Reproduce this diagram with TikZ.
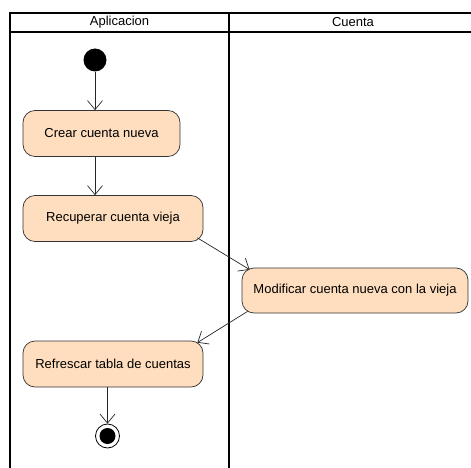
\documentclass[tikz,border=0pt]{standalone}
\usepackage{fontspec}
\setmainfont{Liberation Sans}
\usetikzlibrary{arrows.meta}
\definecolor{accion}{RGB}{254,222,190}

\begin{document}
\begin{tikzpicture}[x=1pt,y=-1pt,font=\fontsize{13}{15}\selectfont,
        carril/.style={draw=black,line width=1.4pt},
        actividad/.style={draw=black!80,fill=accion,line width=0.7pt,rounded corners=12pt,minimum height=46pt,inner sep=0pt},
        flujo/.style={draw=black!85,line width=0.7pt,-{Straight Barb[length=9pt,width=15pt]}}]
        \useasboundingbox (0,0) rectangle (471,468);
        \pgfmathsetmacro\izq{10}
        \pgfmathsetmacro\mitad{229}
        \pgfmathsetmacro\der{471}
        \pgfmathsetmacro\arriba{13}
        \pgfmathsetmacro\cabeza{32}
        \pgfmathsetmacro\abajo{468}
        % calles
        \draw[carril] (\der,\arriba) -- (\izq,\arriba) -- (\izq,\abajo);
        \draw[carril] (\izq,\cabeza) -- (\der,\cabeza);
        \draw[carril] (\mitad,\arriba) -- (\mitad,\abajo);
        \node (aplicacion) at ({(\izq+\mitad)/2},{(\arriba+\cabeza)/2}) {Aplicacion};
        \node (cuenta) at (353,{(\arriba+\cabeza)/2}) {Cuenta};
        % actividades
        \node[circle,fill=black,minimum size=23pt,inner sep=0pt] (inicio) at (95,60) {};
        \node[actividad,minimum width=157pt] (crear) at (101.5,133.5) {Crear cuenta nueva};
        \node[actividad,minimum width=180pt] (recuperar) at (113,218.5) {Recuperar cuenta vieja};
        \node[actividad,minimum width=226pt,minimum height=45pt] (modificar) at (355,290.5) {Modificar cuenta nueva con la vieja};
        \node[actividad,minimum width=180pt] (refrescar) at (113,364) {Refrescar tabla de cuentas};
        \node[circle,draw=black,line width=0.8pt,minimum size=24pt,inner sep=0pt] (fin) at (107.5,436) {};
        \fill (fin.center) circle (8);
        % flujos
        \draw[flujo] (inicio) -- (inicio |- crear.north);
        \draw[flujo] (crear.south -| inicio) -- (recuperar.north -| inicio);
        \draw[flujo] ([shift={(-6,-4)}]recuperar.south east) -- ([shift={(8,2)}]modificar.north west);
        \draw[flujo] ([shift={(6,-2)}]modificar.south west) -- ([shift={(-6,2)}]refrescar.north east);
        \draw[flujo] (refrescar.south -| fin) -- (fin);
\end{tikzpicture}
\end{document}
